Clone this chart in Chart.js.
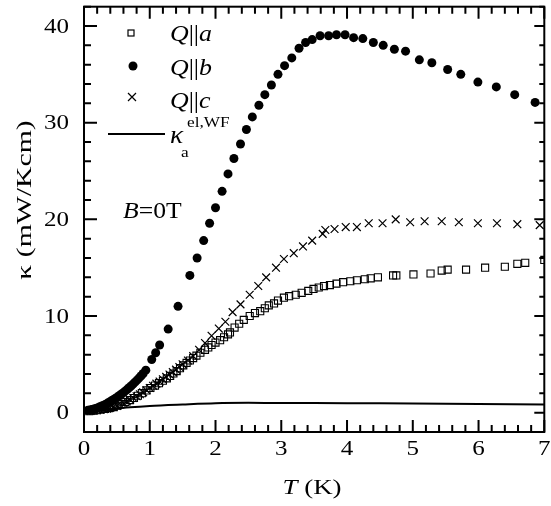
<!DOCTYPE html>
<html>
<head>
<meta charset="utf-8">
<script src="https://cdn.jsdelivr.net/npm/chart.js@4.4.1/dist/chart.umd.min.js"></script>
<style>
  body { margin: 0; background: #fff; }
</style>
</head>
<body>
<canvas id="chart" width="551" height="506"></canvas>
<script>
// thermal conductivity vs temperature
const aT = [0.08, 0.14, 0.19, 0.25, 0.32, 0.38, 0.45, 0.51, 0.57, 0.63, 0.70, 0.76, 0.82, 0.88, 0.95, 1.01, 1.08, 1.14, 1.20, 1.26, 1.31, 1.36, 1.41, 1.46, 1.51, 1.56, 1.61, 1.66, 1.71, 1.77, 1.84, 1.89, 1.94, 2.00, 2.07, 2.13, 2.19, 2.22, 2.29, 2.36, 2.43, 2.52, 2.60, 2.68, 2.75, 2.81, 2.89, 2.95, 3.04, 3.12, 3.22, 3.31, 3.41, 3.49, 3.57, 3.65, 3.74, 3.84, 3.94, 4.05, 4.15, 4.27, 4.36, 4.47, 4.70, 4.75, 5.01, 5.27, 5.44, 5.53, 5.81, 6.10, 6.40, 6.59, 6.71, 7.00];
const aK = [0.15, 0.2, 0.25, 0.3, 0.38, 0.47, 0.58, 0.72, 0.9, 1.1, 1.3, 1.52, 1.75, 2.02, 2.3, 2.55, 2.8, 3.05, 3.3, 3.55, 3.8, 4.05, 4.3, 4.6, 4.9, 5.15, 5.4, 5.65, 5.9, 6.2, 6.5, 6.75, 7.0, 7.25, 7.5, 7.8, 8.1, 8.3, 8.8, 9.2, 9.6, 10.0, 10.3, 10.5, 10.8, 11.1, 11.3, 11.6, 11.9, 12.05, 12.2, 12.4, 12.6, 12.8, 12.95, 13.1, 13.2, 13.35, 13.5, 13.6, 13.7, 13.8, 13.9, 14.0, 14.2, 14.2, 14.3, 14.4, 14.7, 14.8, 14.8, 15.0, 15.1, 15.4, 15.5, 15.8];

const bT = [0.06, 0.09, 0.12, 0.15, 0.18, 0.21, 0.24, 0.27, 0.30, 0.33, 0.36, 0.39, 0.42, 0.45, 0.48, 0.51, 0.54, 0.57, 0.60, 0.63, 0.66, 0.69, 0.72, 0.75, 0.78, 0.81, 0.84, 0.87, 0.90, 0.94, 1.03, 1.09, 1.15, 1.28, 1.43, 1.61, 1.72, 1.82, 1.91, 2.00, 2.10, 2.19, 2.28, 2.38, 2.47, 2.56, 2.66, 2.75, 2.85, 2.95, 3.05, 3.16, 3.27, 3.37, 3.47, 3.59, 3.72, 3.84, 3.97, 4.10, 4.24, 4.40, 4.55, 4.72, 4.89, 5.10, 5.29, 5.53, 5.73, 5.99, 6.27, 6.55, 6.86];
const bK = [0.25, 0.28, 0.33, 0.38, 0.44, 0.51, 0.6, 0.68, 0.78, 0.88, 0.99, 1.1, 1.23, 1.36, 1.49, 1.63, 1.78, 1.93, 2.08, 2.25, 2.42, 2.6, 2.79, 2.98, 3.18, 3.39, 3.6, 3.82, 4.05, 4.4, 5.5, 6.2, 7.0, 8.65, 11.0, 14.2, 16.0, 17.8, 19.6, 21.2, 22.9, 24.7, 26.3, 27.8, 29.3, 30.6, 31.8, 32.9, 33.9, 35.0, 35.9, 36.7, 37.7, 38.3, 38.6, 39.0, 39.0, 39.1, 39.1, 38.8, 38.7, 38.3, 38.0, 37.6, 37.4, 36.5, 36.2, 35.5, 35.0, 34.2, 33.7, 32.9, 32.1];

const cT = [0.10, 0.15, 0.20, 0.25, 0.30, 0.35, 0.40, 0.45, 0.50, 0.55, 0.60, 0.65, 0.70, 0.75, 0.80, 0.85, 0.90, 0.95, 1.00, 1.05, 1.10, 1.15, 1.20, 1.25, 1.30, 1.35, 1.40, 1.45, 1.50, 1.58, 1.66, 1.75, 1.84, 1.94, 2.05, 2.15, 2.26, 2.38, 2.52, 2.65, 2.77, 2.92, 3.04, 3.19, 3.33, 3.47, 3.63, 3.67, 3.81, 3.98, 4.15, 4.33, 4.54, 4.74, 4.96, 5.18, 5.44, 5.70, 5.99, 6.28, 6.59, 6.93];
const cK = [0.18, 0.22, 0.25, 0.3, 0.35, 0.42, 0.5, 0.6, 0.7, 0.85, 1.0, 1.17, 1.35, 1.52, 1.7, 1.9, 2.1, 2.32, 2.55, 2.78, 3.0, 3.22, 3.45, 3.7, 3.95, 4.2, 4.45, 4.72, 5.0, 5.4, 5.85, 6.5, 7.2, 7.95, 8.7, 9.4, 10.4, 11.2, 12.2, 13.1, 14.0, 15.0, 15.9, 16.5, 17.2, 17.8, 18.5, 18.9, 19.0, 19.2, 19.2, 19.6, 19.6, 20.0, 19.7, 19.8, 19.8, 19.7, 19.6, 19.6, 19.5, 19.4];

const elT = [0.05, 0.3, 0.7, 1.0, 1.5, 2.0, 2.5, 3.0, 4.0, 5.0, 6.0, 7.0];
const elK = [0.05, 0.25, 0.55, 0.7, 0.85, 0.98, 1.02, 1.0, 0.98, 0.95, 0.9, 0.85];

const xTicks = [0, 1, 2, 3, 4, 5, 6, 7];
const yTicks = [0, 10, 20, 30, 40];

const serif = "'Liberation Serif', 'Times New Roman', serif";

function pts(xs, ys) {
  return xs.map((x, i) => ({ x: x, y: ys[i] }));
}

function fontOf(p, size) {
  return (p.italic ? 'italic ' : '') + size + 'px ' + serif;
}

// write a run of text pieces (some italic), stretched sideways by sx
function drawParts(ctx, x, y, size, parts, sx, align) {
  let w = 0;
  parts.forEach(p => { ctx.font = fontOf(p, size); w += ctx.measureText(p.t).width; });
  let start = 0;
  if (align === 'center') start = -w / 2;
  if (align === 'right') start = -w;
  ctx.save();
  ctx.translate(x, y);
  ctx.scale(sx || 1, 1);
  ctx.textAlign = 'left';
  let off = start;
  parts.forEach(p => {
    ctx.font = fontOf(p, size);
    ctx.fillText(p.t, off, 0);
    off += ctx.measureText(p.t).width;
  });
  ctx.restore();
}

const framePlugin = {
  id: 'frame',
  afterDraw(chart) {
    const ctx = chart.ctx;
    const a = chart.chartArea;
    const xs = chart.scales.x, ys = chart.scales.y;
    ctx.save();
    ctx.strokeStyle = '#000';
    ctx.fillStyle = '#000';
    ctx.lineWidth = 2;
    ctx.strokeRect(a.left, a.top, a.right - a.left, a.bottom - a.top);

    ctx.beginPath();
    for (let i = 0; i <= 35; i++) {
      const px = xs.getPixelForValue(i * 0.2);
      const len = i % 5 === 0 ? 12 : 7;
      ctx.moveTo(px, a.bottom); ctx.lineTo(px, a.bottom - len);
      ctx.moveTo(px, a.top); ctx.lineTo(px, a.top + len);
    }
    for (let v = -2; v <= 42; v += 2) {
      const py = ys.getPixelForValue(v);
      const major = v % 10 === 0;
      ctx.moveTo(a.left, py); ctx.lineTo(a.left + (major ? 13 : 7), py);
      ctx.moveTo(a.right, py); ctx.lineTo(a.right - (major ? 10 : 5), py);
    }
    ctx.stroke();

    ctx.textBaseline = 'alphabetic';
    // tick labels
    xs.ticks.forEach(t => {
      drawParts(ctx, xs.getPixelForValue(t.value), 455, 20, [{ t: String(t.value) }], 1.25, 'center');
    });
    ys.ticks.forEach(t => {
      drawParts(ctx, 69, ys.getPixelForValue(t.value) + 6.6, 20, [{ t: String(t.value) }], 1.25, 'right');
    });

    // legend
    ctx.lineWidth = 1.2;
    ctx.strokeRect(128, 30, 6, 6);
    ctx.beginPath();
    ctx.arc(133, 66, 4.5, 0, Math.PI * 2);
    ctx.fill();
    ctx.beginPath();
    ctx.moveTo(128, 93); ctx.lineTo(136, 101);
    ctx.moveTo(136, 93); ctx.lineTo(128, 101);
    ctx.stroke();
    ctx.lineWidth = 2;
    ctx.beginPath();
    ctx.moveTo(108, 134); ctx.lineTo(165, 134);
    ctx.stroke();

    drawParts(ctx, 170, 41, 22.5, [{ t: 'Q', italic: true }, { t: '||' }, { t: 'a', italic: true }], 1.15);
    drawParts(ctx, 170, 75, 22.5, [{ t: 'Q', italic: true }, { t: '||' }, { t: 'b', italic: true }], 1.15);
    drawParts(ctx, 170, 108, 22.5, [{ t: 'Q', italic: true }, { t: '||' }, { t: 'c', italic: true }], 1.15);
    drawParts(ctx, 170, 143, 25, [{ t: 'κ', italic: true }], 1.1);
    drawParts(ctx, 181, 157, 15, [{ t: 'a' }], 1.15);
    drawParts(ctx, 187, 127, 15, [{ t: 'el,WF' }], 1.15);

    drawParts(ctx, 123, 218, 22.5, [{ t: 'B', italic: true }, { t: '=0T' }], 1.14);

    // axis titles
    drawParts(ctx, 312, 494, 21, [{ t: 'T', italic: true }, { t: ' (K)' }], 1.28, 'center');

    ctx.translate(31, 200);
    ctx.rotate(-Math.PI / 2);
    drawParts(ctx, 0, 0, 22, [{ t: 'κ (mW/Kcm)' }], 1.35, 'center');
    ctx.restore();
  }
};

const ctx = document.getElementById('chart').getContext('2d');
new Chart(ctx, {
  type: 'scatter',
  data: {
    datasets: [
      {
        label: 'kappa el,WF',
        data: pts(elT, elK),
        showLine: true,
        borderColor: '#000',
        borderWidth: 2,
        pointRadius: 0,
        tension: 0.3
      },
      {
        label: 'Q||a',
        data: pts(aT, aK),
        pointStyle: 'rect',
        pointRadius: 5,
        borderColor: '#000',
        backgroundColor: 'rgba(0,0,0,0)',
        borderWidth: 1.1
      },
      {
        label: 'Q||c',
        data: pts(cT, cK),
        pointStyle: 'crossRot',
        pointRadius: 5.5,
        borderColor: '#000',
        borderWidth: 1.2
      },
      {
        label: 'Q||b',
        data: pts(bT, bK),
        pointStyle: 'circle',
        pointRadius: 4.5,
        borderWidth: 0,
        backgroundColor: '#000'
      }
    ]
  },
  options: {
    responsive: false,
    animation: false,
    devicePixelRatio: 1,
    layout: { padding: { top: 5, right: 6, left: 0, bottom: 0 } },
    plugins: {
      legend: { display: false },
      tooltip: { enabled: false }
    },
    scales: {
      x: {
        type: 'linear',
        min: 0,
        max: 7,
        grid: { display: false, drawTicks: false },
        border: { display: false },
        afterBuildTicks(scale) { scale.ticks = xTicks.map(v => ({ value: v })); },
        afterFit(scale) {
          scale.height = 74;
          scale.paddingLeft = 0;
          scale.paddingRight = 0;
        },
        ticks: { display: false }
      },
      y: {
        type: 'linear',
        min: -2,
        max: 42,
        grid: { display: false, drawTicks: false },
        border: { display: false },
        afterBuildTicks(scale) { scale.ticks = yTicks.map(v => ({ value: v })); },
        afterFit(scale) {
          scale.width = 84;
          scale.paddingTop = 0;
          scale.paddingBottom = 0;
        },
        ticks: { display: false }
      }
    }
  },
  plugins: [framePlugin]
});
</script>
</body>
</html>
